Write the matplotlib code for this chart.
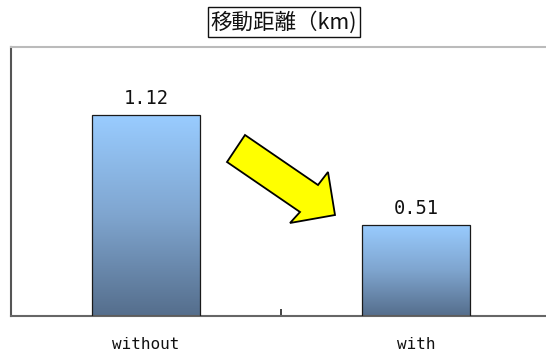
import numpy as np
import matplotlib
matplotlib.use("Agg")
import matplotlib.pyplot as plt
from matplotlib.patches import Polygon
from matplotlib.colors import LinearSegmentedColormap

categories = ["without", "with"]
values = [1.12, 0.51]
value_labels = ["1.12", "0.51"]
title = "移動距離（km)"

W, H = 546, 353
fig = plt.figure(figsize=(W / 100, H / 100), dpi=100)
ax = fig.add_axes([11 / W, (H - 316) / H, 540 / W, (316 - 47) / H])

x = np.arange(len(categories))
bars = ax.bar(x, values, width=0.4, color="none", edgecolor="#1a1a1a", linewidth=0.9, zorder=3)

cmap = LinearSegmentedColormap.from_list("g", ["#556E8C", "#7FA5CF", "#99CCFF"])
grad = np.linspace(0, 1, 256).reshape(-1, 1)
for b in bars:
    x0, y0 = b.get_x(), b.get_y()
    w, h = b.get_width(), b.get_height()
    im = ax.imshow(grad, extent=[x0, x0 + w, y0, y0 + h], origin="lower",
                   cmap=cmap, aspect="auto", zorder=2)
    im.set_clip_path(b)

ax.set_xlim(-0.5, 1.5)
ax.set_ylim(0, 1.5)

for xi, v, lab in zip(x, values, value_labels):
    ax.annotate(lab, (xi, v), xytext=(0, 5), textcoords="offset points",
                ha="center", va="bottom", fontsize=13.5,
                family=["DejaVu Sans Mono"], color="#111111")

ax.set_xticks(x)
ax.set_xticklabels(categories, family=["DejaVu Sans Mono"], fontsize=11.5, color="#111111")
ax.tick_params(axis="x", length=0, pad=15)
ax.set_xticks([0.5], minor=True)
ax.tick_params(axis="x", which="minor", direction="in", length=5, width=1.2, color="#222222")
ax.set_yticks([])

ax.spines["right"].set_visible(False)
ax.spines["top"].set_color("#bbbbbb")
ax.spines["top"].set_linewidth(1.5)
ax.spines["left"].set_color("#555555")
ax.spines["left"].set_linewidth(1.5)
ax.spines["bottom"].set_color("#666666")
ax.spines["bottom"].set_linewidth(1.5)

fig.text(284 / W, 1 - 22 / H, title, ha="center", va="center", fontsize=15.5,
         family=["Noto Sans CJK JP", "DejaVu Sans"], color="#111111",
         bbox=dict(boxstyle="square,pad=0.15", facecolor="white", edgecolor="#111111", linewidth=1.0))

arrow_px = [(227, 162), (245, 135), (318, 185), (328, 172), (335, 215), (290, 223), (300, 212)]
arrow = Polygon([(px / W, 1 - py / H) for px, py in arrow_px], closed=True,
                facecolor="#FFFF00", edgecolor="#000000", linewidth=1.3,
                transform=fig.transFigure, zorder=10)
fig.patches.append(arrow)

fig.savefig("out.png", dpi=100)
